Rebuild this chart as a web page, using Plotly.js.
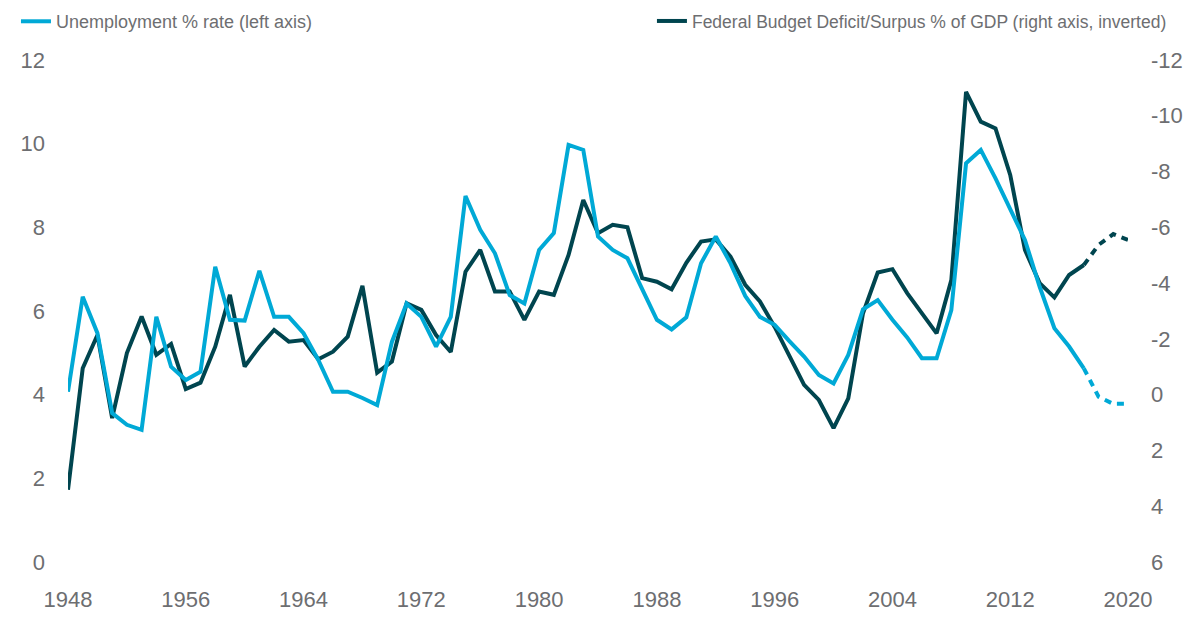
<!DOCTYPE html>
<html><head><meta charset="utf-8">
<script src="https://cdn.plot.ly/plotly-3.0.1.min.js"></script>
<style>html,body{margin:0;padding:0;background:#fff}#chart{width:1191px;height:617px}</style>
</head><body><div id="chart"></div>
<script>
const years = [1948,1949,1950,1951,1952,1953,1954,1955,1956,1957,1958,1959,1960,1961,1962,1963,1964,1965,1966,1967,1968,1969,1970,1971,1972,1973,1974,1975,1976,1977,1978,1979,1980,1981,1982,1983,1984,1985,1986,1987,1988,1989,1990,1991,1992,1993,1994,1995,1996,1997,1998,1999,2000,2001,2002,2003,2004,2005,2006,2007,2008,2009,2010,2011,2012,2013,2014,2015,2016,2017,2018,2019,2020];
const unemployment = [4.07,6.34,5.47,3.56,3.28,3.16,5.86,4.67,4.35,4.55,7.06,5.79,5.77,6.96,5.86,5.86,5.47,4.83,4.07,4.07,3.92,3.75,5.26,6.18,5.86,5.15,5.86,8.75,7.94,7.38,6.38,6.18,7.46,7.86,9.97,9.85,7.78,7.46,7.26,6.50,5.79,5.56,5.85,7.14,7.78,7.14,6.36,5.86,5.67,5.28,4.91,4.47,4.27,4.95,6.04,6.26,5.79,5.37,4.87,4.87,6.02,9.53,9.85,9.17,8.42,7.70,6.58,5.59,5.15,4.63,3.95,3.78,3.78];
const deficit = [3.41,-0.95,-2.14,0.84,-1.49,-2.80,-1.43,-1.82,-0.20,-0.43,-1.72,-3.58,-1.01,-1.72,-2.32,-1.90,-1.96,-1.27,-1.54,-2.08,-3.90,-0.79,-1.19,-3.28,-3.04,-2.14,-1.53,-4.41,-5.19,-3.70,-3.70,-2.68,-3.70,-3.58,-5.01,-6.98,-5.79,-6.09,-6.00,-4.18,-4.05,-3.78,-4.73,-5.49,-5.57,-4.95,-3.94,-3.34,-2.43,-1.35,-0.35,0.19,1.20,0.13,-2.92,-4.38,-4.50,-3.64,-2.92,-2.20,-4.11,-10.86,-9.79,-9.55,-7.88,-5.19,-4.00,-3.49,-4.29,-4.65,-5.37,-5.76,-5.55];
const lastActualYear = 2017;
const xTicks = [1948,1956,1964,1972,1980,1988,1996,2004,2012,2020];
const leftTicks = [0,2,4,6,8,10,12];
const rightTicks = [6,4,2,0,-2,-4,-6,-8,-10,-12];
const rightTickText = ['6','4','2','0','-2','-4','-6','-8','-10','-12'];
const unempName = 'Unemployment % rate (left axis)';
const deficitName = 'Federal Budget Deficit/Surpus % of GDP (right axis, inverted)';

const cyan = '#00A9D6';
const dark = '#00454F';
const grey = '#6D6E71';
const FONT = 'Liberation Sans, Arial, sans-serif';

const k = years.indexOf(lastActualYear);
const traces = [
  {x: years.slice(0,k+1), y: deficit.slice(0,k+1), yaxis:'y', type:'scatter', mode:'lines',
   name: deficitName, legend:'legend2', line:{color:dark, width:4}},
  {x: years.slice(k), y: deficit.slice(k), yaxis:'y', type:'scatter', mode:'lines',
   showlegend:false, line:{color:dark, width:4, dash:'7px,6px'}},
  {x: years.slice(0,k+1), y: unemployment.slice(0,k+1), yaxis:'y2', type:'scatter', mode:'lines',
   name: unempName, legend:'legend', line:{color:cyan, width:4}},
  {x: years.slice(k), y: unemployment.slice(k), yaxis:'y2', type:'scatter', mode:'lines',
   showlegend:false, line:{color:cyan, width:4, dash:'7px,6px'}}
];

const tickFont = {family: FONT, size: 22, color: grey};
const layout = {
  width:1191, height:617,
  margin:{l:68, r:63, t:60, b:55},
  paper_bgcolor:'#fff', plot_bgcolor:'#fff',
  font:{family:FONT, color:grey},
  showlegend:true,
  xaxis:{range:[1948,2020], tickvals:xTicks, showgrid:false, zeroline:false, showline:false,
         ticks:'', tickfont:tickFont, ticklabelstandoff:22},
  yaxis:{side:'right', range:[6,-12], tickvals:rightTicks, ticktext:rightTickText,
         showgrid:false, zeroline:false, showline:false, ticks:'', tickfont:tickFont, ticklabelstandoff:22},
  yaxis2:{overlaying:'y', side:'left', range:[0,12], tickvals:leftTicks,
          showgrid:false, zeroline:false, showline:false, ticks:'', tickfont:tickFont, ticklabelstandoff:22},
  legend:{xref:'container', yref:'container', x:0.0134, y:0.995, xanchor:'left', yanchor:'top',
          orientation:'h', font:{family:FONT, size:18, color:grey}, bgcolor:'rgba(0,0,0,0)'},
  legend2:{xref:'container', yref:'container', x:0.984, y:0.995, xanchor:'right', yanchor:'top',
          orientation:'h', font:{family:FONT, size:17.5, color:grey}, bgcolor:'rgba(0,0,0,0)'}
};
Plotly.newPlot('chart', traces, layout, {displayModeBar:false, staticPlot:true});
</script></body></html>
